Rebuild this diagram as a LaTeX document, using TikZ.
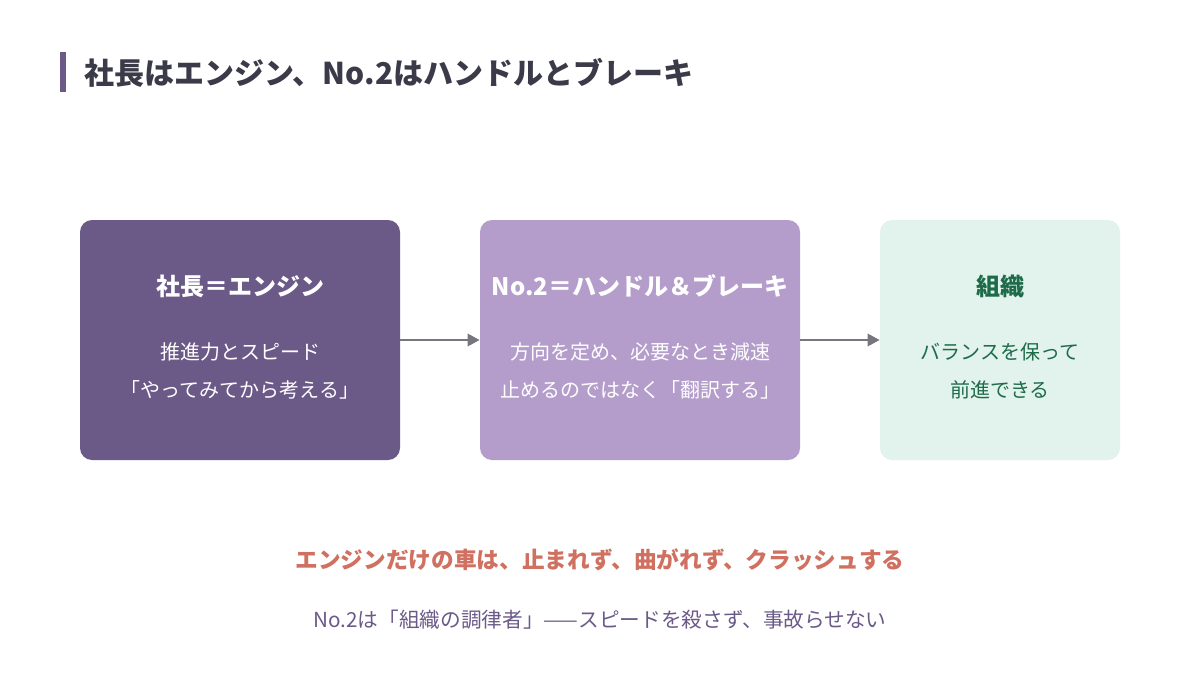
\documentclass[tikz,border=0pt]{standalone}
\usepackage{fontspec}
\setmainfont{Noto Sans CJK JP}
\usetikzlibrary{arrows.meta}
\definecolor{ttl}{HTML}{3A3A48}
\definecolor{pdark}{HTML}{6B5A88}
\definecolor{plight}{HTML}{B49DCB}
\definecolor{mint}{HTML}{E2F2EC}
\definecolor{grn}{HTML}{1E6B4A}
\definecolor{arr}{HTML}{77757D}
\definecolor{warn}{HTML}{D07060}
\tikzset{
 box/.style={rounded corners=9pt,draw=none},
 hd/.style={font=\fontsize{18}{22}\selectfont\bfseries,anchor=center},
 bd/.style={font=\fontsize{15}{29}\selectfont,align=center,anchor=center},
 conn/.style={draw=arr,line width=2.2pt,-{Triangle[length=9pt,width=9pt]}}
}
\begin{document}
\begin{tikzpicture}[x=0.75pt,y=-0.75pt]
\useasboundingbox (0,0) rectangle (1200,700);
\fill[pdark] (60,52) rectangle (66,92);
\node[anchor=west,text=ttl,font=\fontsize{22.5}{26}\selectfont\bfseries] (title) at (80,73) {社長はエンジン、No.2はハンドルとブレーキ};
\node[box,fill=pdark,minimum width=240pt,minimum height=180pt] (b1) at (240,340) {};
\node[box,fill=plight,minimum width=240pt,minimum height=180pt] (b2) at (640,340) {};
\node[box,fill=mint,minimum width=180pt,minimum height=180pt] (b3) at (1000,340) {};
\node[hd,text=white] (t1) at (240,286) {社長＝エンジン};
\node[hd,text=white] (t2) at (640,286) {No.2＝ハンドル＆ブレーキ};
\node[hd,text=grn] (t3) at (1000,286) {組織};
\node[bd,text=white] (d1) at (240,371) {推進力とスピード\\「やってみてから考える」};
\node[bd,text=white] (d2) at (640,371) {方向を定め、必要なとき減速\\止めるのではなく「翻訳する」};
\node[bd,text=grn] (d3) at (1000,371) {バランスを保って\\前進できる};
\draw[conn] (b1.east) -- (b2.west);
\draw[conn] (b2.east) -- (b3.west);
\node[text=warn,font=\fontsize{17}{20}\selectfont\bfseries] (w) at (600,560) {エンジンだけの車は、止まれず、曲がれず、クラッシュする};
\node[text=pdark,font=\fontsize{15.5}{20}\selectfont] (n) at (600,620) {No.2は「組織の調律者」——スピードを殺さず、事故らせない};
\end{tikzpicture}
\end{document}
